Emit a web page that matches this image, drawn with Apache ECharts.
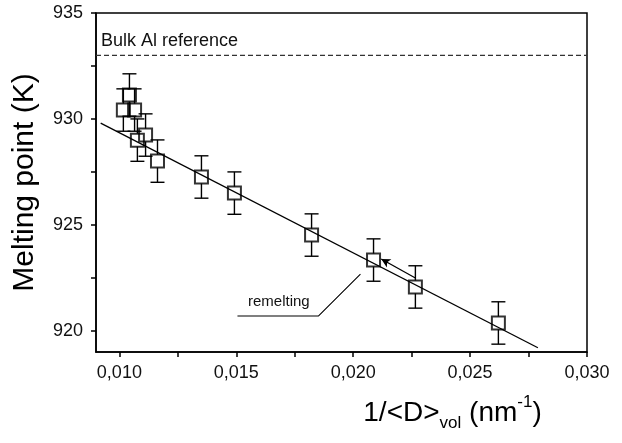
<!DOCTYPE html>
<html>
<head>
<meta charset="utf-8">
<script src="https://cdn.jsdelivr.net/npm/echarts@6/dist/echarts.min.js"></script>
<style>html,body{margin:0;padding:0;background:#fff}#c{width:622px;height:443px}</style>
</head>
<body>
<div id="c"></div>
<script>
// ---- data ----
const invD = [0.01017, 0.01043, 0.01065, 0.01077, 0.01112, 0.01163, 0.01351, 0.01492, 0.01822, 0.02087, 0.02266, 0.02621];
const meltT = [930.42, 931.13, 930.42, 929.00, 929.24, 928.01, 927.26, 926.50, 924.52, 923.34, 922.07, 920.37];
const meltErr = [1, 1, 1, 1, 1, 1, 1, 1, 1, 1, 1, 1];
const fitX = [0.0092, 0.0279];
const fitY = [929.8, 919.2];
const bulkX = [0.009, 0.030];
const bulkY = [933, 933];
const arrowFrom = [0.02266, 922.49];
const arrowTo = [0.02120, 923.39];
const leaderX = [0.01505, 0.01852, 0.02031];
const leaderY = [920.70, 920.70, 922.68];
const xLabels = [0.010, 0.015, 0.020, 0.025, 0.030];
const xTicks = [0.010, 0.0125, 0.015, 0.0175, 0.020, 0.0225, 0.025, 0.0275, 0.030];
const yLabels = [920, 925, 930, 935];
const yTicks = [920, 922.5, 925, 927.5, 930, 932.5, 935];

const F = 'Liberation Sans, Arial, sans-serif';
const chart = echarts.init(document.getElementById('c'));
const pts = invD.map((x, i) => [x, meltT[i], meltErr[i]]);

chart.setOption({
  animation: false,
  backgroundColor: '#fff',
  grid: { left: 96, right: 35, top: 13, bottom: 91, show: true, borderColor: '#000', borderWidth: 1.5, backgroundColor: 'transparent' },
  xAxis: {
    type: 'value', min: 0.009, max: 0.030,
    axisLine: { show: true, lineStyle: { color: '#000', width: 1.5 } },
    axisTick: { show: true, customValues: xTicks, length: 5, lineStyle: { color: '#000', width: 1.5 } },
    axisLabel: { customValues: xLabels, color: '#111', fontSize: 18, fontFamily: F, margin: 12,
      formatter: v => v.toFixed(3).replace('.', ',') },
    splitLine: { show: false },
    name: '1/<D>{sub|vol} (nm{sup|-1})',
    nameLocation: 'middle', nameGap: 42,
    nameTextStyle: { color: '#000', fontSize: 28, fontFamily: F, lineHeight: 38, padding: [0, 0, 0, 222],
      rich: {
        sub: { fontSize: 17, fontFamily: F, color: '#000', verticalAlign: 'bottom', lineHeight: 18 },
        sup: { fontSize: 17, fontFamily: F, color: '#000', verticalAlign: 'top', lineHeight: 18 }
      } }
  },
  yAxis: {
    type: 'value', min: 919, max: 935,
    axisLine: { show: true, lineStyle: { color: '#000', width: 1.5 } },
    axisTick: { show: true, customValues: yTicks, length: 5, lineStyle: { color: '#000', width: 1.5 } },
    axisLabel: { customValues: yLabels, color: '#111', fontSize: 18, fontFamily: F, margin: 13 },
    splitLine: { show: false },
    name: 'Melting point (K)', nameLocation: 'middle', nameGap: 56, nameRotate: 90,
    nameTextStyle: { color: '#000', fontSize: 30, fontFamily: F }
  },
  graphic: [
    { type: 'text', left: 101, top: 32, style: { text: 'Bulk Al reference', fontSize: 18, fontFamily: F, fill: '#111' } },
    { type: 'text', left: 248, top: 294, style: { text: 'remelting', fontSize: 15, fontFamily: F, fill: '#111' } }
  ],
  series: [
    { type: 'line', data: bulkX.map((x, i) => [x, bulkY[i]]), symbol: 'none', silent: true,
      lineStyle: { color: '#333', width: 1.4, type: [5, 3] } },
    { type: 'line', data: fitX.map((x, i) => [x, fitY[i]]), symbol: 'none', silent: true,
      lineStyle: { color: '#000', width: 1.3 } },
    { type: 'line', data: leaderX.map((x, i) => [x, leaderY[i]]), symbol: 'none', silent: true,
      lineStyle: { color: '#000', width: 1.1 },
      markLine: { silent: true, symbol: ['none', 'arrow'], symbolSize: [7, 9], label: { show: false },
        lineStyle: { color: '#000', width: 1.3, type: 'solid' },
        data: [[{ coord: arrowFrom }, { coord: arrowTo }]] } },
    { type: 'custom', data: pts, z: 3,
      renderItem: (params, api) => {
        const x = api.value(0), y = api.value(1), e = api.value(2);
        const c = api.coord([x, y]), t = api.coord([x, y + e]), b = api.coord([x, y - e]);
        const h = 6.5, cap = 7;
        const st = { stroke: '#000', lineWidth: 1.4 };
        return { type: 'group', children: [
          { type: 'line', shape: { x1: c[0], y1: t[1], x2: c[0], y2: c[1] - h }, style: st },
          { type: 'line', shape: { x1: c[0], y1: c[1] + h, x2: c[0], y2: b[1] }, style: st },
          { type: 'line', shape: { x1: c[0] - cap, y1: t[1], x2: c[0] + cap, y2: t[1] }, style: st },
          { type: 'line', shape: { x1: c[0] - cap, y1: b[1], x2: c[0] + cap, y2: b[1] }, style: st }
        ] };
      } },
    { type: 'scatter', data: pts.map(p => [p[0], p[1]]), symbol: 'rect', symbolSize: 13, z: 4,
      itemStyle: { color: 'rgba(0,0,0,0)', borderColor: '#000', borderWidth: 2 } }
  ]
});
</script>
</body>
</html>
